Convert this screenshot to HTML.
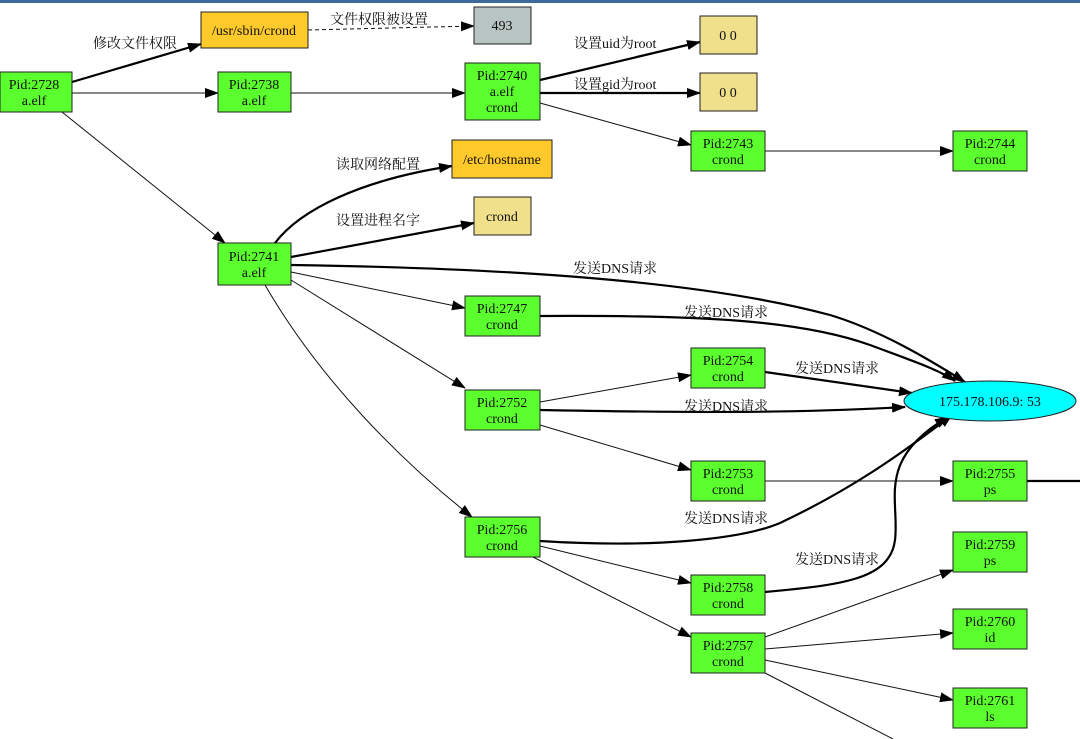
<!DOCTYPE html>
<html><head><meta charset="utf-8"><style>
html,body{margin:0;padding:0;background:#fff;}
svg{display:block;}
text{font-family:"Liberation Serif","Noto Serif CJK SC",serif;font-size:14px;fill:#111;}
.n{fill:#5cff2e;stroke:#222;stroke-width:1;}
.o{fill:#fdc92b;stroke:#222;}
.k{fill:#f0df8b;stroke:#222;}
.g{fill:#b8c4c1;stroke:#222;}
.e{fill:none;stroke:#111;stroke-width:1;marker-end:url(#a);}
.t{fill:none;stroke:#000;stroke-width:2.2;marker-end:url(#a);}
</style></head><body>
<svg width="1080" height="739" viewBox="0 0 1080 739" xmlns="http://www.w3.org/2000/svg">
<defs><marker id="a" markerUnits="userSpaceOnUse" markerWidth="14" markerHeight="10" refX="13" refY="5" orient="auto"><path d="M0,0 L14,5 L0,10 z" fill="#000"/></marker></defs>
<rect x="0" y="0" width="1080" height="3" fill="#3d6a9a"/>

<!-- edges -->
<path class="t" d="M72,82 L201,44"/>
<path class="e" d="M308,30 L474,26" stroke-dasharray="4,3"/>
<path class="e" d="M72,93 L218,93"/>
<path class="e" d="M291,93 L465,93"/>
<path class="t" d="M540,80 L700,42"/>
<path class="t" d="M540,93 L700,93"/>
<path class="e" d="M540,103 L691,145"/>
<path class="e" d="M765,151 L953,151"/>
<path class="e" d="M62,112 L225,243"/>
<path class="t" d="M275,243 C300,210 360,180 452,166"/>
<path class="t" d="M291,257 L474,223"/>
<path class="t" d="M291,265 C500,268 700,280 830,315 C880,330 930,360 965,382"/>
<path class="e" d="M291,272 L465,308"/>
<path class="e" d="M291,280 L465,388"/>
<path class="e" d="M265,285 C320,380 400,460 472,517"/>
<path class="t" d="M540,316 C700,315 800,320 870,345 C910,360 940,370 955,381"/>
<path class="t" d="M765,372 L912,393"/>
<path class="t" d="M540,410 C700,413 800,413 905,407"/>
<path class="e" d="M540,402 L691,375"/>
<path class="e" d="M540,425 L691,470"/>
<path class="e" d="M765,481 L953,481"/>
<path class="t" d="M1027,481 L1080,481" style="marker-end:none"/>
<path class="t" d="M540,541 C650,548 740,540 780,523 C850,490 900,455 952,415"/>
<path class="t" d="M765,592 C840,585 890,580 895,540 C900,500 875,460 948,417"/>
<path class="e" d="M540,546 L691,583"/>
<path class="e" d="M533,557 L691,637"/>
<path class="e" d="M765,637 L953,570"/>
<path class="e" d="M765,649 L953,633"/>
<path class="e" d="M765,660 L953,700"/>
<path class="e" d="M765,673 L893,739" style="marker-end:none"/>

<!-- edge labels -->
<text x="93" y="48">修改文件权限</text>
<text x="330" y="24">文件权限被设置</text>
<text x="574" y="48">设置uid为root</text>
<text x="574" y="89">设置gid为root</text>
<text x="336" y="169">读取网络配置</text>
<text x="336" y="225">设置进程名字</text>
<text x="573" y="273">发送DNS请求</text>
<text x="684" y="317">发送DNS请求</text>
<text x="795" y="373">发送DNS请求</text>
<text x="684" y="411">发送DNS请求</text>
<text x="684" y="523">发送DNS请求</text>
<text x="795" y="564">发送DNS请求</text>

<!-- nodes -->
<g text-anchor="middle">
<rect class="n" x="0" y="72" width="72" height="40"/><text x="34" y="89">Pid:2728</text><text x="34" y="105">a.elf</text>
<rect class="o" x="201" y="12" width="107" height="36"/><text x="254" y="35">/usr/sbin/crond</text>
<rect class="g" x="474" y="7" width="57" height="37"/><text x="502" y="30">493</text>
<rect class="n" x="218" y="72" width="73" height="40"/><text x="254" y="89">Pid:2738</text><text x="254" y="105">a.elf</text>
<rect class="n" x="465" y="63" width="75" height="57"/><text x="502" y="80">Pid:2740</text><text x="502" y="96">a.elf</text><text x="502" y="112">crond</text>
<rect class="k" x="700" y="16" width="57" height="38"/><text x="728" y="40">0 0</text>
<rect class="k" x="700" y="73" width="57" height="38"/><text x="728" y="97">0 0</text>
<rect class="n" x="691" y="131" width="74" height="40"/><text x="728" y="148">Pid:2743</text><text x="728" y="164">crond</text>
<rect class="n" x="953" y="131" width="74" height="40"/><text x="990" y="148">Pid:2744</text><text x="990" y="164">crond</text>
<rect class="o" x="452" y="140" width="100" height="38"/><text x="502" y="164">/etc/hostname</text>
<rect class="k" x="474" y="197" width="57" height="38"/><text x="502" y="221">crond</text>
<rect class="n" x="218" y="243" width="73" height="42"/><text x="254" y="261">Pid:2741</text><text x="254" y="277">a.elf</text>
<rect class="n" x="465" y="296" width="75" height="40"/><text x="502" y="313">Pid:2747</text><text x="502" y="329">crond</text>
<rect class="n" x="691" y="348" width="74" height="40"/><text x="728" y="365">Pid:2754</text><text x="728" y="381">crond</text>
<rect class="n" x="465" y="390" width="75" height="40"/><text x="502" y="407">Pid:2752</text><text x="502" y="423">crond</text>
<ellipse cx="990" cy="401" rx="86" ry="20" fill="#00ffff" stroke="#222"/><text x="990" y="406">175.178.106.9: 53</text>
<rect class="n" x="691" y="461" width="74" height="40"/><text x="728" y="478">Pid:2753</text><text x="728" y="494">crond</text>
<rect class="n" x="953" y="461" width="74" height="40"/><text x="990" y="478">Pid:2755</text><text x="990" y="494">ps</text>
<rect class="n" x="465" y="517" width="75" height="40"/><text x="502" y="534">Pid:2756</text><text x="502" y="550">crond</text>
<rect class="n" x="691" y="575" width="74" height="40"/><text x="728" y="592">Pid:2758</text><text x="728" y="608">crond</text>
<rect class="n" x="953" y="532" width="74" height="40"/><text x="990" y="549">Pid:2759</text><text x="990" y="565">ps</text>
<rect class="n" x="691" y="633" width="74" height="40"/><text x="728" y="650">Pid:2757</text><text x="728" y="666">crond</text>
<rect class="n" x="953" y="609" width="74" height="40"/><text x="990" y="626">Pid:2760</text><text x="990" y="642">id</text>
<rect class="n" x="953" y="688" width="74" height="40"/><text x="990" y="705">Pid:2761</text><text x="990" y="721">ls</text>
</g>
</svg>
</body></html>
